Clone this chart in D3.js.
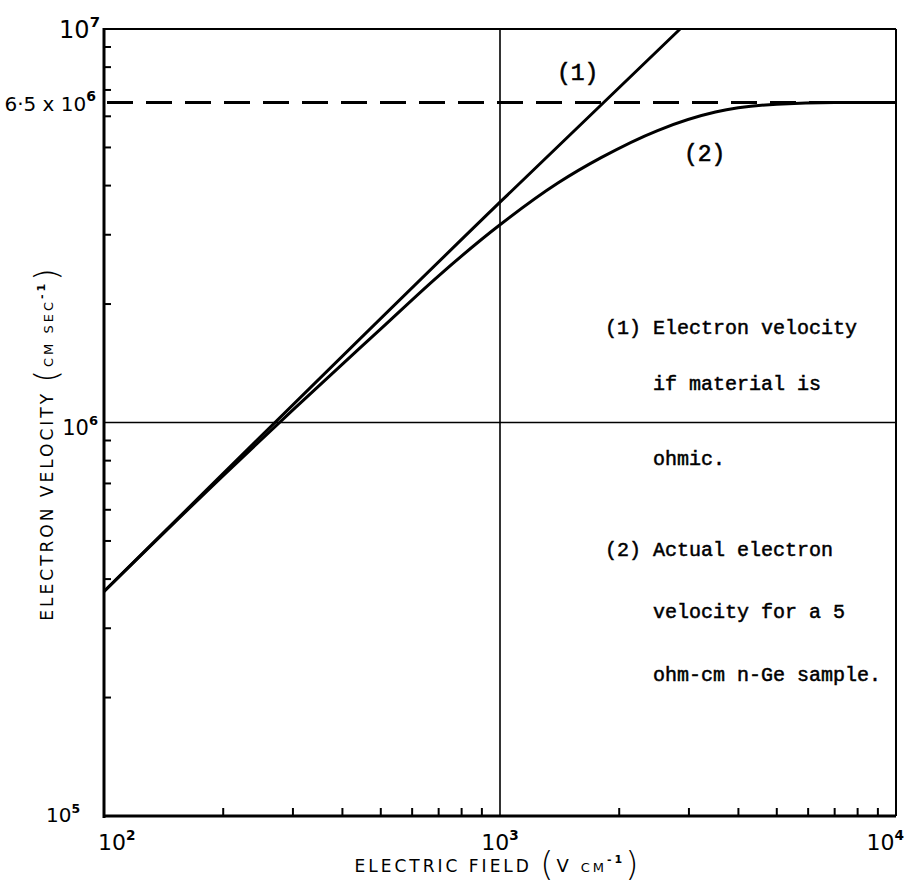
<!DOCTYPE html>
<html>
<head>
<meta charset="utf-8">
<script src="https://cdn.jsdelivr.net/npm/d3@7/dist/d3.min.js"></script>
<style>
  html, body { margin: 0; padding: 0; background: #fff; }
  svg { display: block; }
</style>
</head>
<body>
<svg id="chart" width="906" height="888"></svg>
<script>
// ---- data ----
const fieldDomain = [100, 10000];          // V cm^-1
const velocityDomain = [1e5, 1e7];         // cm sec^-1
const saturationVelocity = 6.5e6;

// (1) ohmic line
const ohmicField    = [100, 1000, 2850];
const ohmicVelocity = [3.72e5, 3.63e6, 1e7];

// (2) actual velocity, 5 ohm-cm n-Ge
const actualField    = [100, 200, 300, 500, 700, 1000, 1400, 1800, 2500, 3500, 5000, 7000, 10000];
const actualVelocity = [3.72e5, 7.33e5, 1.077e6, 1.73e6, 2.36e6, 3.18e6, 4.06e6, 4.71e6, 5.52e6, 6.15e6, 6.44e6, 6.5e6, 6.5e6];

const xMajor = [100, 1000, 10000];
const xMajorExp = ["2", "3", "4"];
const yMajor = [1e5, 1e6, 1e7];
const yMajorExp = ["5", "6", "7"];

const legendLines = [
  "(1) Electron velocity",
  "    if material is",
  "    ohmic.",
  "(2) Actual electron",
  "    velocity for a 5",
  "    ohm-cm n-Ge sample."
];

// ---- layout ----
const svg = d3.select("#chart");
const L = 104, R = 896, T = 29, B = 816;
const x = d3.scaleLog().domain(fieldDomain).range([L, R]);
const y = d3.scaleLog().domain(velocityDomain).range([B, T]);

const labelFont = "'DejaVu Sans', 'Liberation Sans', sans-serif";
const monoFont = "'Liberation Mono', 'DejaVu Sans Mono', monospace";

// minor ticks (inward)
const minorX = x.ticks().filter(v => !xMajor.includes(v));
const minorY = y.ticks().filter(v => !yMajor.includes(v));

svg.append("g").selectAll("line").data(minorX).join("line")
  .attr("x1", d => x(d)).attr("x2", d => x(d))
  .attr("y1", B).attr("y2", B - 8)
  .attr("stroke", "#000").attr("stroke-width", 2);

svg.append("g").selectAll("line").data(minorY).join("line")
  .attr("x1", L).attr("x2", L + 7)
  .attr("y1", d => y(d)).attr("y2", d => y(d))
  .attr("stroke", "#000").attr("stroke-width", 2);

// grid lines at 10^3 and 10^6
svg.append("line")
  .attr("x1", x(1000)).attr("x2", x(1000)).attr("y1", T).attr("y2", B)
  .attr("stroke", "#000").attr("stroke-width", 1.6);
svg.append("line")
  .attr("x1", L).attr("x2", R).attr("y1", y(1e6)).attr("y2", y(1e6))
  .attr("stroke", "#000").attr("stroke-width", 1.6);

// frame
svg.append("line").attr("x1", L).attr("x2", R).attr("y1", T).attr("y2", T)
  .attr("stroke", "#000").attr("stroke-width", 2.2);
svg.append("line").attr("x1", R).attr("x2", R).attr("y1", T).attr("y2", B)
  .attr("stroke", "#000").attr("stroke-width", 2);
svg.append("line").attr("x1", L).attr("x2", L).attr("y1", T - 1).attr("y2", B + 2)
  .attr("stroke", "#000").attr("stroke-width", 3);
svg.append("line").attr("x1", L - 1).attr("x2", R).attr("y1", B).attr("y2", B)
  .attr("stroke", "#000").attr("stroke-width", 3);

// saturation dashed line
svg.append("line")
  .attr("x1", L + 3).attr("x2", R).attr("y1", y(saturationVelocity)).attr("y2", y(saturationVelocity))
  .attr("stroke", "#000").attr("stroke-width", 3)
  .attr("stroke-dasharray", "26,13");

// curves
const ohmic = ohmicField.map((f, i) => [f, ohmicVelocity[i]]);
const actual = actualField.map((f, i) => [f, actualVelocity[i]]);
const line = d3.line().x(d => x(d[0])).y(d => y(d[1])).curve(d3.curveMonotoneX);

svg.append("path").datum(ohmic).attr("d", line)
  .attr("fill", "none").attr("stroke", "#000").attr("stroke-width", 3);
svg.append("path").datum(actual).attr("d", line)
  .attr("fill", "none").attr("stroke", "#000").attr("stroke-width", 3);

// tick labels
function powLabel(px, py, exp, anchor, size) {
  const t = svg.append("text")
    .attr("x", px).attr("y", py)
    .attr("text-anchor", anchor)
    .attr("font-family", labelFont)
    .attr("font-size", size)
    .attr("fill", "#000");
  t.append("tspan").text("10");
  t.append("tspan").attr("dy", -size * 0.45).attr("font-size", size * 0.62).attr("font-weight", "bold").text(exp);
  return t;
}
powLabel(x(xMajor[0]) - 6, B + 34, xMajorExp[0], "start", 22);
powLabel(x(xMajor[1]), B + 34, xMajorExp[1], "middle", 22);
powLabel(x(xMajor[2]) + 8, B + 34, xMajorExp[2], "end", 22);

powLabel(L - 4, y(yMajor[2]) + 9, yMajorExp[2], "end", 24);
powLabel(L - 6, y(yMajor[1]) + 12, yMajorExp[1], "end", 21);
powLabel(L - 24, y(yMajor[0]) + 6, yMajorExp[0], "end", 20);

// 6.5 x 10^6 label
{
  const t = svg.append("text")
    .attr("x", L - 8).attr("y", y(saturationVelocity) + 8)
    .attr("text-anchor", "end")
    .attr("font-family", labelFont)
    .attr("font-size", 20)
    .attr("fill", "#000");
  t.append("tspan").text("6·5 x 10");
  t.append("tspan").attr("dy", -10).attr("font-size", 14).attr("font-weight", "bold").text("6");
}

// axis titles
{
  const t = svg.append("text")
    .attr("x", 498).attr("y", 872)
    .attr("text-anchor", "middle")
    .attr("font-family", labelFont)
    .attr("font-size", 17)
    .attr("letter-spacing", 3)
    .attr("fill", "#000");
  t.append("tspan").text("ELECTRIC  FIELD   ");
  t.append("tspan").attr("font-size", 34).attr("font-weight", "200").attr("dy", 4).text("(");
  t.append("tspan").attr("font-size", 18).attr("dy", -4).text("V ");
  t.append("tspan").attr("font-size", 13).text("CM");
  t.append("tspan").attr("font-size", 11).attr("dy", -9).attr("font-weight", "bold").text("-1");
  t.append("tspan").attr("font-size", 34).attr("font-weight", "200").attr("dy", 13).text(")");
}
{
  const t = svg.append("text")
    .attr("transform", `translate(53,443) rotate(-90)`)
    .attr("text-anchor", "middle")
    .attr("font-family", labelFont)
    .attr("font-size", 17)
    .attr("letter-spacing", 3)
    .attr("fill", "#000");
  t.append("tspan").text("ELECTRON  VELOCITY   ");
  t.append("tspan").attr("font-size", 32).attr("font-weight", "200").attr("dy", 4).text("(");
  t.append("tspan").attr("font-size", 13).attr("dy", -4).text("CM  SEC");
  t.append("tspan").attr("font-size", 11).attr("dy", -8).attr("font-weight", "bold").text("-1");
  t.append("tspan").attr("font-size", 32).attr("font-weight", "200").attr("dy", 12).text(")");
}

// curve labels
svg.append("text").attr("x", 557).attr("y", 80)
  .attr("font-family", monoFont).attr("font-size", 23)
  .attr("stroke", "#000").attr("stroke-width", 0.6)
  .attr("fill", "#000").text("(1)");
svg.append("text").attr("x", 684).attr("y", 161)
  .attr("font-family", monoFont).attr("font-size", 23)
  .attr("stroke", "#000").attr("stroke-width", 0.6)
  .attr("fill", "#000").text("(2)");

// legend text
const legendY = [334, 390, 465, 556, 618, 681];
svg.selectAll("text.legend").data(legendLines).join("text")
  .attr("class", "legend")
  .attr("x", 605)
  .attr("y", (d, i) => legendY[i])
  .attr("font-family", monoFont)
  .attr("font-size", 20)
  .attr("fill", "#000")
  .attr("stroke", "#000")
  .attr("stroke-width", 0.5)
  .attr("xml:space", "preserve")
  .style("white-space", "pre")
  .text(d => d);
</script>
</body>
</html>
